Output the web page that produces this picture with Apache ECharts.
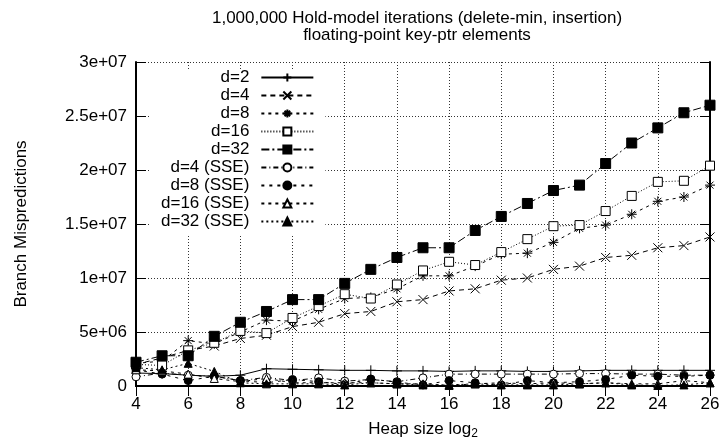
<!DOCTYPE html>
<html>
<head>
<meta charset="utf-8">
<script src="https://cdn.jsdelivr.net/npm/echarts@6/dist/echarts.min.js"></script>
<style>
html, body { margin: 0; padding: 0; background: #fff; }
#chart { width: 723px; height: 445px; }
</style>
</head>
<body>
<div id="chart"></div>
<script>
// heap size (log2) on x, branch mispredictions in millions on y
var heapSizes = [4, 5, 6, 7, 8, 9, 10, 11, 12, 13, 14, 15, 16, 17, 18, 19, 20, 21, 22, 23, 24, 25, 26];

var d2 = [1.2, 1.15, 1.0, 0.9, 1.0, 1.6, 1.55, 1.5, 1.45, 1.45, 1.4, 1.4, 1.35, 1.4, 1.4, 1.35, 1.35, 1.4, 1.45, 1.45, 1.45, 1.45, 1.45];
var d4 = [2.0, 2.6, 3.3, 3.7, 4.4, 4.7, 5.5, 5.9, 6.7, 6.9, 7.8, 8.0, 8.8, 9.0, 9.8, 10.0, 10.8, 11.1, 11.9, 12.1, 12.8, 13.0, 13.8];
var d8 = [2.1, 2.3, 4.2, 3.9, 5.0, 6.1, 6.0, 7.1, 8.1, 8.2, 9.0, 10.2, 10.2, 11.1, 12.2, 12.3, 13.3, 14.6, 14.9, 15.9, 17.1, 17.5, 18.6];
var d16 = [2.0, 1.9, 3.3, 4.0, 5.1, 4.9, 6.3, 7.4, 8.5, 8.1, 9.4, 10.7, 11.5, 11.2, 12.4, 13.6, 14.8, 14.9, 16.2, 17.6, 18.9, 19.0, 20.4];
var d32 = [2.2, 2.8, 2.8, 4.6, 5.9, 6.9, 8.0, 8.0, 9.5, 10.8, 11.9, 12.8, 12.8, 14.4, 15.7, 16.9, 18.1, 18.6, 20.6, 22.5, 23.9, 25.3, 26.0];
var d4sse = [0.85, 1.2, 1.0, 0.9, 0.5, 0.8, 0.5, 0.75, 0.45, 0.6, 0.4, 0.75, 1.1, 1.1, 1.1, 1.1, 1.1, 1.15, 1.15, 1.1, 1.1, 1.0, 1.0];
var d8sse = [1.5, 1.1, 0.5, 0.9, 0.5, 0.3, 0.6, 0.4, 0.15, 0.65, 0.35, 0.1, 0.5, 0.3, 0.1, 0.5, 0.3, 0.4, 0.6, 1.0, 0.9, 0.9, 1.0];
var d16sse = [1.5, 1.4, 1.1, 0.7, 0.4, 0.7, 0.3, 0.3, 0.3, 0.3, 0.2, 0.2, 0.05, 0.2, 0.3, 0.2, 0.3, 0.2, 0.3, 0.2, 0.2, 0.5, 0.3];
var d32sse = [1.7, 1.5, 2.1, 1.35, 0.3, 0.2, 0.2, 0.2, 0.1, 0.3, 0.2, 0.1, 0.1, 0.2, 0.1, 0.1, 0.1, 0.2, 0.3, 0.1, 0.05, 0.1, 0.3];

var FONT = 'Liberation Sans';
var PLUS = 'path://M0,5L10,5M5,0L5,10';
var CROSS = 'path://M0,0L10,10M0,10L10,0';
var STAR = 'path://M0,5L10,5M5,0L5,10M1.5,1.5L8.5,8.5M1.5,8.5L8.5,1.5';

function pairs(values) {
    return heapSizes.map(function (x, i) { return [x, values[i]]; });
}

function makeSeries(name, values, symbol, size, fill, dash) {
    return {
        name: name,
        type: 'line',
        data: pairs(values),
        symbol: symbol,
        symbolSize: size,
        lineStyle: { color: '#000', width: 1, type: dash },
        itemStyle: { color: fill, borderColor: '#000', borderWidth: 1 },
        emphasis: { disabled: true }
    };
}

function expLabel(v) {
    if (v === 0) return '0';
    return (v * 1e6).toExponential().replace(/e\+(\d)$/, 'e+0$1');
}

var chart = echarts.init(document.getElementById('chart'));
chart.setOption({
    animation: false,
    textStyle: { fontFamily: FONT, color: '#000' },
    graphic: [{
        type: 'text',
        x: 417,
        y: 27,
        style: {
            text: '1,000,000 Hold-model iterations (delete-min, insertion)\nfloating-point key-ptr elements',
            align: 'center',
            verticalAlign: 'middle',
            lineHeight: 17,
            font: '17px "Liberation Sans"',
            fill: '#000'
        }
    }],
    grid: { left: 136, right: 13, top: 62, bottom: 57 },
    legend: {
        orient: 'vertical',
        left: 150,
        top: 69,
        align: 'right',
        itemWidth: 52,
        itemHeight: 10,
        itemGap: 1,
        padding: [0, 11, 6, 11],
        backgroundColor: '#fff',
        textStyle: { fontFamily: FONT, fontSize: 17, color: '#000', padding: [0, 7, 0, 0] },
        selectedMode: false
    },
    xAxis: [{
        type: 'value',
        min: 4,
        max: 26,
        interval: 2,
        name: '{a|Heap size log}{s|2}',
        nameLocation: 'middle',
        nameGap: 32,
        nameTextStyle: {
            rich: {
                a: { fontFamily: FONT, fontSize: 17, color: '#000' },
                s: { fontFamily: FONT, fontSize: 12, color: '#000', padding: [10, 0, 0, 0] }
            }
        },
        axisLine: { lineStyle: { color: '#000', width: 2 } },
        axisTick: { inside: true, length: 10, lineStyle: { color: '#000' } },
        axisLabel: { fontFamily: FONT, fontSize: 17, color: '#000', margin: 10 },
        splitLine: { show: true, lineStyle: { color: '#333', type: [1, 2] } }
    }, {
        type: 'value',
        position: 'top',
        min: 4,
        max: 26,
        interval: 2,
        axisLine: { lineStyle: { color: '#000', width: 2 } },
        axisTick: { inside: true, length: 10, lineStyle: { color: '#000' } },
        axisLabel: { show: false },
        splitLine: { show: false }
    }],
    yAxis: [{
        type: 'value',
        min: 0,
        max: 30,
        interval: 5,
        name: 'Branch Mispredictions',
        nameLocation: 'middle',
        nameRotate: 90,
        nameGap: 106,
        nameTextStyle: { fontFamily: FONT, fontSize: 17, color: '#000' },
        axisLine: { show: true, lineStyle: { color: '#000', width: 2 } },
        axisTick: { show: true, inside: true, length: 10, lineStyle: { color: '#000' } },
        axisLabel: { fontFamily: FONT, fontSize: 17, color: '#000', margin: 9, formatter: expLabel },
        splitLine: { show: true, lineStyle: { color: '#333', type: [1, 2] } }
    }, {
        type: 'value',
        position: 'right',
        min: 0,
        max: 30,
        interval: 5,
        axisLine: { show: true, lineStyle: { color: '#000', width: 2 } },
        axisTick: { show: true, inside: true, length: 10, lineStyle: { color: '#000' } },
        axisLabel: { show: false },
        splitLine: { show: false }
    }],
    series: [
        makeSeries('d=2', d2, PLUS, 10, '#000', 'solid'),
        makeSeries('d=4', d4, CROSS, 9, '#000', [5, 4]),
        makeSeries('d=8', d8, STAR, 10, '#000', [3, 4]),
        makeSeries('d=16', d16, 'rect', 9, '#fff', [1, 2]),
        makeSeries('d=32', d32, 'rect', 10, '#000', [8, 3, 2, 3]),
        makeSeries('d=4 (SSE)', d4sse, 'circle', 8, '#fff', [5, 3, 1, 3]),
        makeSeries('d=8 (SSE)', d8sse, 'circle', 8, '#000', [3, 5]),
        makeSeries('d=16 (SSE)', d16sse, 'triangle', 8, '#fff', [3, 4]),
        makeSeries('d=32 (SSE)', d32sse, 'triangle', 8, '#000', [2, 3])
    ]
});
</script>
</body>
</html>
